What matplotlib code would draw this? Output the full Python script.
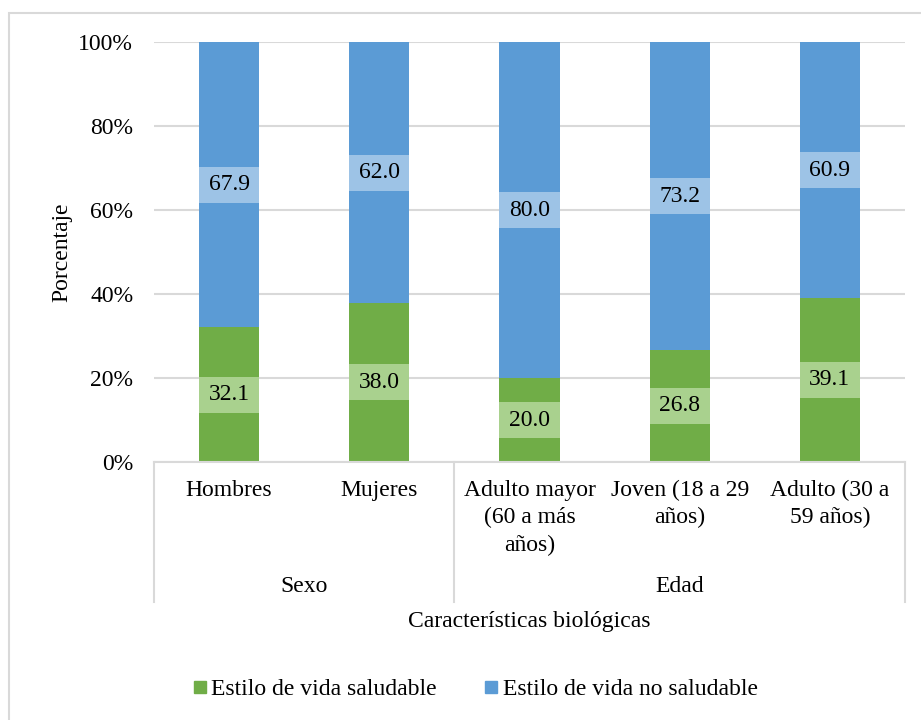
import matplotlib.pyplot as plt
from matplotlib.patches import Rectangle
from matplotlib.lines import Line2D
import numpy as np

plt.rcParams['font.family'] = ['Liberation Serif', 'DejaVu Serif']
plt.rcParams['font.size'] = 17

# Estilo de vida por características biológicas
categorias = ['Hombres', 'Mujeres', 'Adulto mayor\n(60 a más\naños)',
              'Joven (18 a 29\naños)', 'Adulto (30 a\n59 años)']
grupos = ['Sexo', 'Edad']
grupo_tam = [2, 3]
saludable = [32.1, 38.0, 20.0, 26.8, 39.1]
no_saludable = [67.9, 62.0, 80.0, 73.2, 60.9]
series = ['Estilo de vida saludable', 'Estilo de vida no saludable']

verde, azul = '#70AD47', '#5B9BD5'
verde_claro, azul_claro = '#A9D18E', '#9DC3E6'
gris = '#D9D9D9'

W, H = 921, 720
fig = plt.figure(figsize=(W / 100, H / 100), dpi=100)
ax = fig.add_axes([154 / W, (H - 462) / H, (905 - 154) / W, (462 - 42.5) / H])

x = np.arange(len(categorias))
ancho = 0.4
ax.bar(x, saludable, ancho, color=verde, zorder=2)
ax.bar(x, no_saludable, ancho, bottom=saludable, color=azul, zorder=2)

# etiquetas de datos con recuadro del ancho de la barra
alto_caja = 36 / 4.195
for i in range(len(x)):
    for centro, val, fondo in [(saludable[i] / 2, saludable[i], verde_claro),
                               (saludable[i] + no_saludable[i] / 2, no_saludable[i], azul_claro)]:
        ax.bar(x[i], alto_caja, ancho, bottom=centro - alto_caja / 2, color=fondo, zorder=3)
        ax.text(x[i], centro, f'{val:.1f}', ha='center', va='center', zorder=4)

ax.set_xlim(-0.5, len(x) - 0.5)
ax.set_ylim(0, 100)
ax.set_yticks(np.arange(0, 101, 20))
ax.set_yticklabels([f'{v}%' for v in range(0, 101, 20)])
ax.tick_params(axis='y', length=0, pad=15)
ax.set_xticks([])
ax.yaxis.grid(True, color=gris, linewidth=1.5, zorder=0)
for s in ['top', 'right', 'left']:
    ax.spines[s].set_visible(False)
ax.spines['bottom'].set_color(gris)
ax.spines['bottom'].set_linewidth(1.5)
ax.set_ylabel('Porcentaje', labelpad=4)

# eje de categorías en dos niveles
tr = ax.get_xaxis_transform()
px = 1 / 419.5
fondo_eje = -140 * px
limites = np.concatenate([[0], np.cumsum(grupo_tam)]) - 0.5
for b in limites:
    ax.add_line(Line2D([b, b], [0, fondo_eje], transform=tr, color=gris,
                       linewidth=1.5, clip_on=False))
for i, cat in enumerate(categorias):
    ax.text(x[i], -18 * px, cat, transform=tr, ha='center', va='top', linespacing=1.38)
for g, nombre in enumerate(grupos):
    ax.text((limites[g] + limites[g + 1]) / 2, -125 * px, nombre, transform=tr,
            ha='center', va='center')
ax.text(0.5, -159 * px, 'Características biológicas', transform=ax.transAxes,
        ha='center', va='center')

# leyenda
manijas = [Line2D([], [], marker='s', linestyle='', markersize=8.5, color=c) for c in (verde, azul)]
fig.legend(manijas, series, loc='center', bbox_to_anchor=(476 / W, (H - 689) / H), ncol=2,
           frameon=False, handlelength=0.5, handletextpad=0.22, columnspacing=2.05)

# borde del área del gráfico
fig.patches.append(Rectangle((9 / W, -0.1), 1.2, (H - 13) / H + 0.1, transform=fig.transFigure,
                             fill=False, edgecolor=gris, linewidth=1.5))

fig.savefig('out.png', dpi=100)
